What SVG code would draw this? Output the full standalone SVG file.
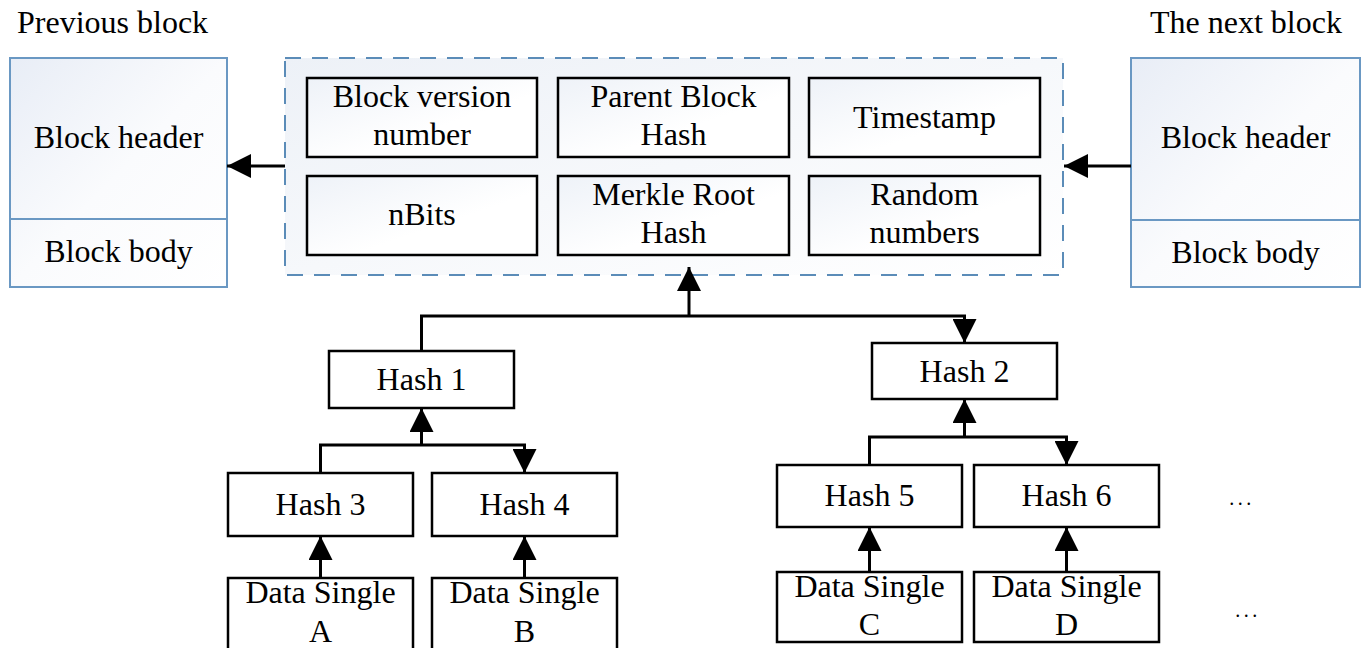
<svg xmlns="http://www.w3.org/2000/svg" width="1365" height="648" viewBox="0 0 1365 648">
  <style>
    text { font-family: "Liberation Serif", "Times New Roman", serif; font-size: 32px; fill: #000; text-anchor: middle; }
    .title { text-anchor: start; }
    .block { fill: url(#blockFill); stroke: #6a98c3; stroke-width: 2; }
    .divider { stroke: #6a98c3; stroke-width: 2; fill: none; }
    .header { fill: url(#headerFill); stroke: #5b8cb8; stroke-width: 2; stroke-dasharray: 16 11; }
    .field { fill: url(#fieldFill); stroke: #000; stroke-width: 2.5; }
    .hash { fill: #fff; stroke: #000; stroke-width: 2.5; }
    .wire { fill: none; stroke: #000; stroke-width: 3; }
    .arrow { fill: none; stroke: #000; stroke-width: 3; marker-end: url(#head); }
    .dots { font-size: 20px; letter-spacing: 3.5px; }
  </style>
  <defs>
    <linearGradient id="blockFill" x1="0" y1="0" x2="1" y2="1">
      <stop offset="0" stop-color="#e8edf6"/>
      <stop offset="0.5" stop-color="#fafbfd"/>
      <stop offset="1" stop-color="#ffffff"/>
    </linearGradient>
    <linearGradient id="headerFill" x1="0" y1="0" x2="1" y2="1">
      <stop offset="0" stop-color="#edf1f7"/>
      <stop offset="1" stop-color="#ffffff"/>
    </linearGradient>
    <linearGradient id="fieldFill" x1="0" y1="0" x2="1" y2="1">
      <stop offset="0" stop-color="#eef2f8"/>
      <stop offset="0.6" stop-color="#ffffff"/>
    </linearGradient>
    <marker id="head" markerUnits="userSpaceOnUse" markerWidth="24" markerHeight="24" viewBox="0 0 22 22" refX="22" refY="11" orient="auto">
      <path d="M0,0 L22,11 L0,22 Z" fill="#000"/>
    </marker>
  </defs>

  <!-- chain neighbours -->
  <g id="previous-block">
    <text class="title" x="17" y="33">Previous block</text>
    <rect class="block" x="10" y="58" width="217" height="229"/>
    <line class="divider" x1="10" y1="219" x2="227" y2="219"/>
    <text x="118.5" y="148">Block header</text>
    <text x="118.5" y="262">Block body</text>
  </g>
  <g id="next-block">
    <text class="title" x="1150" y="33">The next block</text>
    <rect class="block" x="1131" y="58" width="229" height="229"/>
    <line class="divider" x1="1131" y1="220" x2="1360" y2="220"/>
    <text x="1245.5" y="148">Block header</text>
    <text x="1245.5" y="263">Block body</text>
  </g>

  <!-- expanded block header -->
  <g id="block-header">
    <rect class="header" x="285" y="58" width="778" height="217"/>
    <g id="field-version">
      <rect class="field" x="307" y="78" width="230" height="79"/>
      <text x="422" y="107">Block version</text>
      <text x="422" y="145">number</text>
    </g>
    <g id="field-parent">
      <rect class="field" x="558" y="78" width="231" height="79"/>
      <text x="673.5" y="107">Parent Block</text>
      <text x="673.5" y="145">Hash</text>
    </g>
    <g id="field-timestamp">
      <rect class="field" x="809" y="78" width="231" height="79"/>
      <text x="924.5" y="128">Timestamp</text>
    </g>
    <g id="field-nbits">
      <rect class="field" x="307" y="176" width="230" height="79"/>
      <text x="422" y="225">nBits</text>
    </g>
    <g id="field-merkle">
      <rect class="field" x="558" y="176" width="231" height="79"/>
      <text x="673.5" y="205">Merkle Root</text>
      <text x="673.5" y="243">Hash</text>
    </g>
    <g id="field-nonce">
      <rect class="field" x="809" y="176" width="231" height="79"/>
      <text x="924.5" y="205">Random</text>
      <text x="924.5" y="243">numbers</text>
    </g>
  </g>

  <!-- merkle tree -->
  <g id="hash1"><rect class="hash" x="329" y="351" width="185" height="57"/><text x="421.5" y="390">Hash 1</text></g>
  <g id="hash2"><rect class="hash" x="872" y="343" width="185" height="56"/><text x="964.5" y="382">Hash 2</text></g>
  <g id="hash3"><rect class="hash" x="228" y="473" width="185" height="63"/><text x="320.5" y="515">Hash 3</text></g>
  <g id="hash4"><rect class="hash" x="432" y="473" width="185" height="63"/><text x="524.5" y="515">Hash 4</text></g>
  <g id="hash5"><rect class="hash" x="777" y="465" width="185" height="62"/><text x="869.5" y="506">Hash 5</text></g>
  <g id="hash6"><rect class="hash" x="974" y="465" width="185" height="62"/><text x="1066.5" y="506">Hash 6</text></g>

  <g id="data-a"><rect class="hash" x="228" y="578" width="185" height="72"/><text x="320.5" y="603">Data Single</text><text x="320.5" y="642">A</text></g>
  <g id="data-b"><rect class="hash" x="432" y="578" width="185" height="72"/><text x="524.5" y="603">Data Single</text><text x="524.5" y="642">B</text></g>
  <g id="data-c"><rect class="hash" x="777" y="572" width="185" height="70"/><text x="869.5" y="597">Data Single</text><text x="869.5" y="635">C</text></g>
  <g id="data-d"><rect class="hash" x="974" y="572" width="185" height="70"/><text x="1066.5" y="597">Data Single</text><text x="1066.5" y="635">D</text></g>

  <g id="more">
    <text class="dots" x="1242" y="505">...</text>
    <text class="dots" x="1248" y="617">...</text>
  </g>

  <!-- connectors -->
  <g id="connectors">
    <line class="arrow" x1="285" y1="166" x2="227" y2="166"/>
    <line class="arrow" x1="1131" y1="166" x2="1064" y2="166"/>

    <line class="arrow" x1="689" y1="316" x2="689" y2="267"/>
    <polyline class="wire" points="421.5,351 421.5,316 964.5,316 964.5,330"/>
    <line class="arrow" x1="964.5" y1="320" x2="964.5" y2="343"/>

    <line class="arrow" x1="421.5" y1="445" x2="421.5" y2="408"/>
    <polyline class="wire" points="320.5,473 320.5,445 524.5,445 524.5,455"/>
    <line class="arrow" x1="524.5" y1="449" x2="524.5" y2="473"/>
    <line class="arrow" x1="320.5" y1="578" x2="320.5" y2="536"/>
    <line class="arrow" x1="524.5" y1="578" x2="524.5" y2="536"/>

    <line class="arrow" x1="964.5" y1="437" x2="964.5" y2="399"/>
    <polyline class="wire" points="869.5,465 869.5,437 1066.5,437 1066.5,447"/>
    <line class="arrow" x1="1066.5" y1="441" x2="1066.5" y2="465"/>
    <line class="arrow" x1="869.5" y1="572" x2="869.5" y2="527"/>
    <line class="arrow" x1="1066.5" y1="572" x2="1066.5" y2="527"/>
  </g>
</svg>
